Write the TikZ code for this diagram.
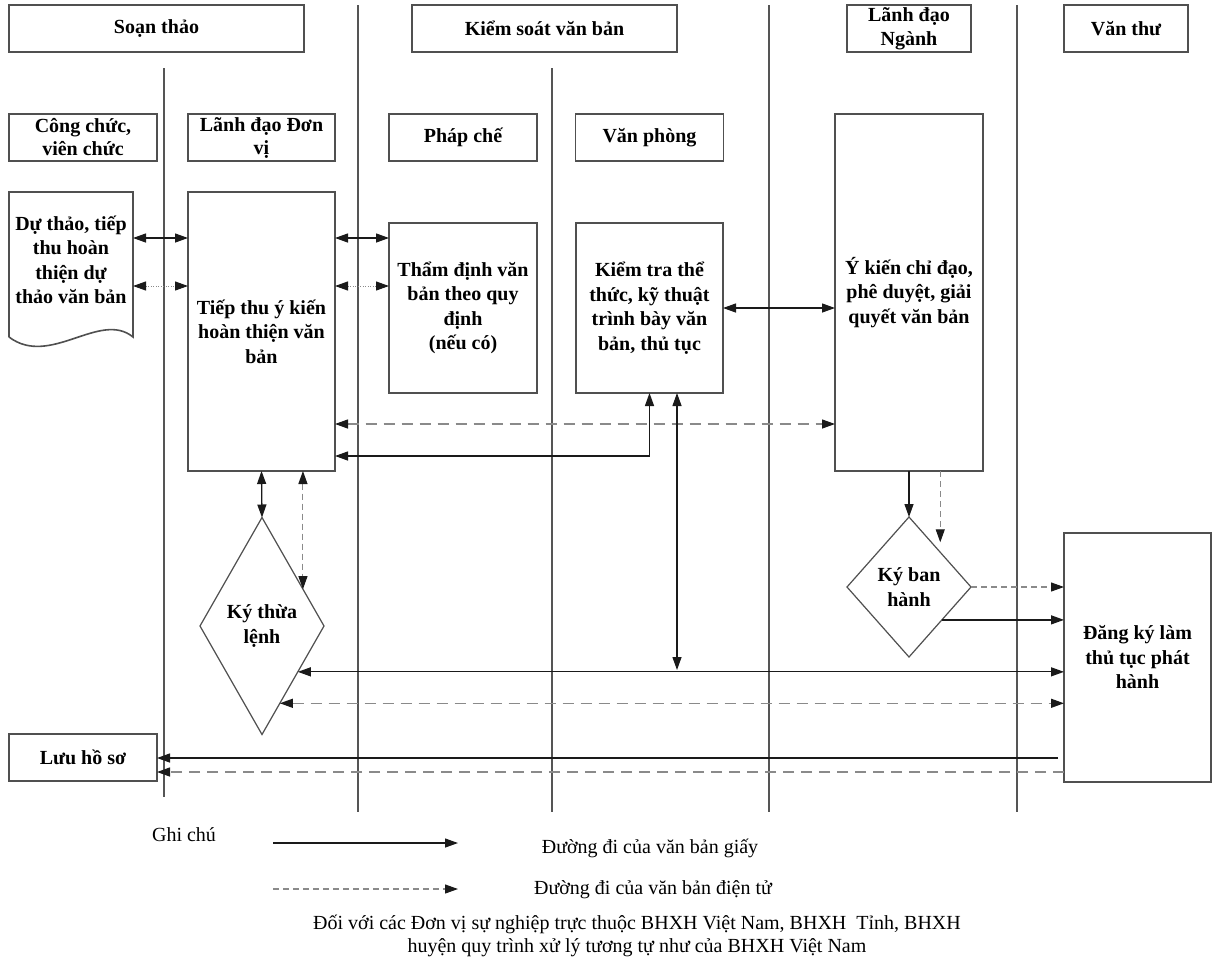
\documentclass[tikz,border=0pt]{standalone}
\usepackage{fontspec}
\setmainfont{Liberation Serif}
\usetikzlibrary{shapes.geometric,arrows.meta}
\definecolor{boxc}{HTML}{505050}
\definecolor{linec}{HTML}{1A1A1A}
\definecolor{dashc}{HTML}{8A8A8A}
\definecolor{lanec}{HTML}{555555}
\begin{document}
\begin{tikzpicture}[x=1pt,y=-1pt,
  >={Triangle[length=13pt,width=9pt,color=linec]},
  lbl/.style={font=\fontsize{20}{24.5}\selectfont\bfseries, align=center, text=black},
  box/.style={lbl, draw=boxc, line width=1.6pt, rectangle, inner sep=0pt, outer sep=0pt},
  dia/.style={lbl, draw=boxc, line width=1.2pt, diamond, aspect=1, inner sep=0pt, outer sep=0pt},
  plain/.style={font=\fontsize{20}{24}\selectfont, align=center, text=black},
  paper/.style={draw=linec, line width=1.3pt},
  elec/.style={draw=dashc, line width=1.3pt, dash pattern=on 11pt off 7pt},
  elecs/.style={draw=dashc, line width=1.1pt, dash pattern=on 6pt off 4pt},
  dots/.style={draw=dashc, line width=1pt, dash pattern=on 1pt off 1.5pt},
  lane/.style={draw=lanec, line width=1.5pt}]
\useasboundingbox[fill=white] (0,0) rectangle (1213,962);

% lane separators
\draw[lane] (164,68) -- (164,797);
\draw[lane] (358,5) -- (358,812);
\draw[lane] (552,68) -- (552,812);
\draw[lane] (769,5) -- (769,812);
\draw[lane] (1017,5) -- (1017,812);

% top headers
\node[box, minimum width=295, minimum height=47] (soan) at (156.5,28.5) {Soạn thảo};
\node[box, minimum width=265, minimum height=47] (ksvb) at (544.5,28.5) {Kiểm soát văn bản};
\node[box, minimum width=124, minimum height=47, font=\fontsize{20}{24}\selectfont\bfseries] (ldn) at (909,28.5) {Lãnh đạo\\Ngành};
\node[box, minimum width=124, minimum height=47] (vthu) at (1126,28.5) {Văn thư};

% second row headers
\node[box, minimum width=148, minimum height=47, font=\fontsize{20}{23}\selectfont\bfseries] (ccvc) at (83,137.5) {Công chức,\\viên chức};
\node[box, minimum width=147, minimum height=47, font=\fontsize{20}{23}\selectfont\bfseries] (ldv) at (261.5,137.5) {Lãnh đạo Đơn\\vị};
\node[box, minimum width=148, minimum height=47] (phc) at (463,137.5) {Pháp chế};
\node[box, minimum width=148, minimum height=47] (vph) at (649.5,137.5) {Văn phòng};

% document shape
\node[rectangle, inner sep=0pt, outer sep=0pt, minimum width=124, minimum height=145] (duthao) at (71,264.5) {};
\draw[draw=boxc, line width=1.6pt] (duthao.south west) -- (duthao.north west) -- (duthao.north east) -- (duthao.south east)
  .. controls (100,310) and (50,368) .. (duthao.south west);
\node[lbl] (duthaot) at (71,260) {Dự thảo, tiếp\\thu hoàn\\thiện dự\\thảo văn bản};

% process boxes
\node[box, minimum width=147, minimum height=279] (tiepthu) at (261.5,331.5) {Tiếp thu ý kiến\\hoàn thiện văn\\bản};
\node[box, minimum width=148, minimum height=170] (thamdinh) at (463,308) {Thẩm định văn\\bản theo quy\\định\\(nếu có)};
\node[box, minimum width=147, minimum height=170] (kiemtra) at (649.5,308) {Kiểm tra thể\\thức, kỹ thuật\\trình bày văn\\bản, thủ tục};
\node[box, minimum width=148, minimum height=357] (ykien) at (909,292.5) {Ý kiến chỉ đạo,\\phê duyệt, giải\\quyết văn bản};
\node[dia, minimum width=124, minimum height=217] (kythua) at (262,626) {Ký thừa\\lệnh};
\node[dia, minimum width=124, minimum height=140] (kybh) at (909,587) {Ký ban\\hành};
\node[box, minimum width=147, minimum height=249] (dangky) at (1137.5,657.5) {Đăng ký làm\\thủ tục phát\\hành};
\node[box, minimum width=148, minimum height=47] (luu) at (83,757.5) {Lưu hồ sơ};

% row coordinates
\coordinate (rA) at (0,238);
\coordinate (rB) at (0,286);
\coordinate (rD) at (0,424);
\coordinate (rE) at (0,456);
\coordinate (xV) at (677,670);
\coordinate (rS) at (0,758);
\coordinate (rT) at (0,772);

% connectors
\draw[paper,<->] (duthao.east |- rA) -- (tiepthu.west |- rA);
\draw[dots,<->] (duthao.east |- rB) -- (tiepthu.west |- rB);
\draw[paper,<->] (tiepthu.east |- rA) -- (thamdinh.west |- rA);
\draw[dots,<->] (tiepthu.east |- rB) -- (thamdinh.west |- rB);
\draw[paper,<->] (kiemtra.east) -- (kiemtra.east -| ykien.west);
\draw[elec,<->] (tiepthu.east |- rD) -- (ykien.west |- rD);
\draw[paper,<->] (kiemtra.south) |- (tiepthu.east |- rE);
\draw[paper,<->] (kiemtra.south -| xV) -- (xV);

\draw[paper,<->] (tiepthu.south) -- (kythua.north);
\draw[elecs,<->] (tiepthu.south -| kythua.42) -- (kythua.42);

\draw[paper,->] (ykien.south) -- (kybh.north);
\draw[elecs,->, shorten >=10pt] (ykien.south -| kybh.48.5) -- (kybh.48.5);
\draw[elecs,->] (kybh.east) -- (kybh.east -| dangky.west);
\draw[paper,->] (kybh.-45) -- (kybh.-45 -| dangky.west);

\draw[paper,<->] (kythua.-52) -- (kythua.-52 -| dangky.west);
\draw[elec,<->] (kythua.-77) -- (kythua.-77 -| dangky.west);

\draw[paper,->] ([xshift=-6pt]dangky.west |- rS) -- (luu.east |- rS);
\draw[elec,->] (dangky.west |- rT) -- (luu.east |- rT);

% legend
\node[plain] (ghichu) at (184,835) {Ghi chú};
\coordinate (l1s) at (273,843);
\coordinate (l1e) at (458,843);
\coordinate (l2s) at (273,889);
\coordinate (l2e) at (458,889);
\draw[paper,->] (l1s) -- (l1e);
\draw[elecs,->] (l2s) -- (l2e);
\node[plain] (lg1) at (650,848) {Đường đi của văn bản giấy};
\node[plain] (lg2) at (653,890) {Đường đi của văn bản điện tử};
\node[plain, font=\fontsize{20}{23}\selectfont] (note) at (637,936) {Đối với các Đơn vị sự nghiệp trực thuộc BHXH Việt Nam, BHXH\ \ Tỉnh, BHXH\\huyện quy trình xử lý tương tự như của BHXH Việt Nam};
\end{tikzpicture}
\end{document}
